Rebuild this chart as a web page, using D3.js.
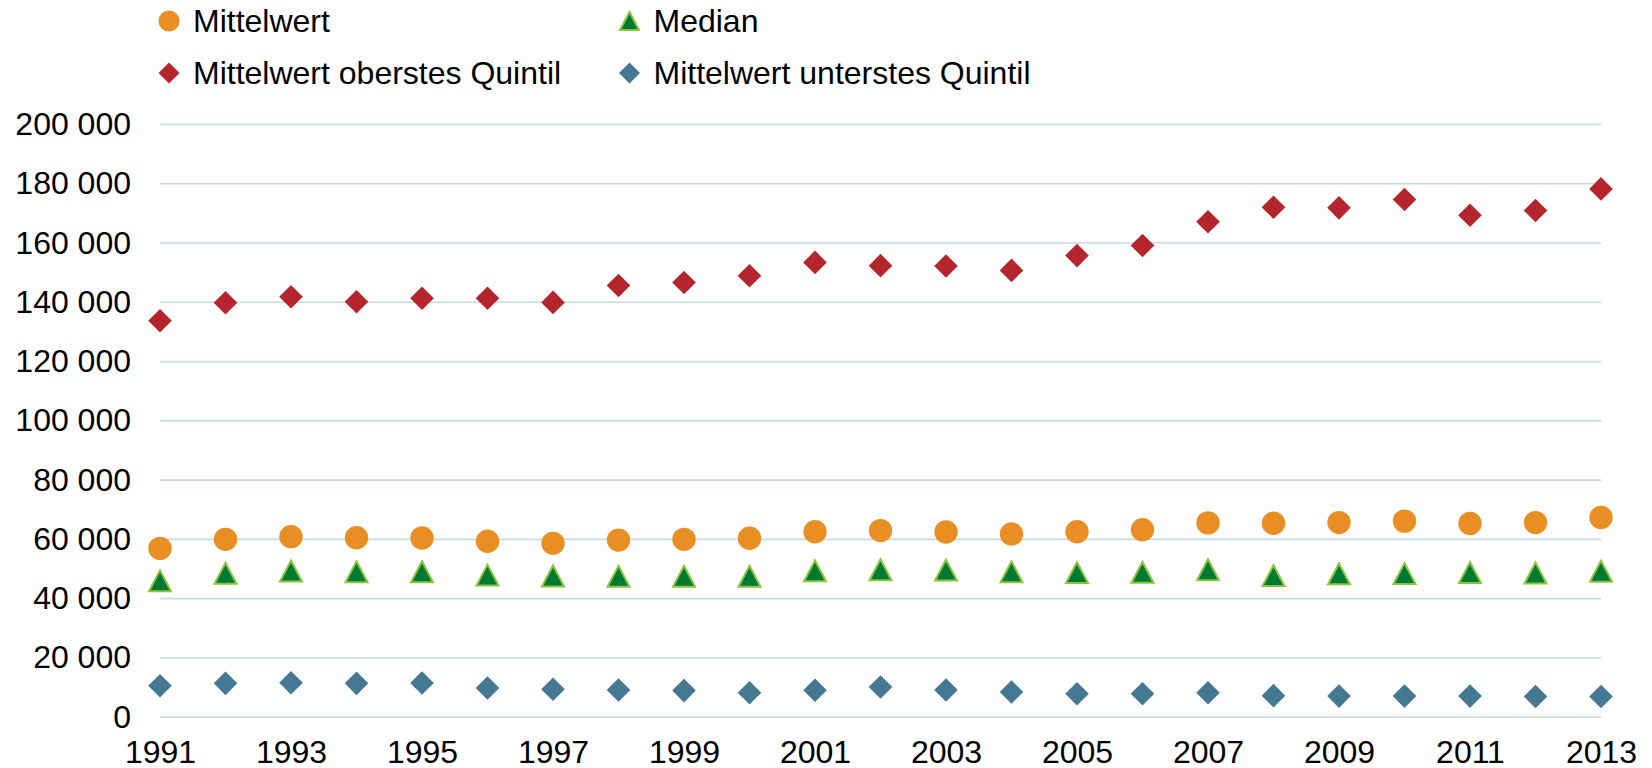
<!DOCTYPE html>
<head>
    <meta charset='utf-8'>
    <style>
        body {
            margin: 0;
            background: #fff;
            font-family: 'Liberation Sans', Arial, sans-serif;
        }
        #vis {
            width: 1652px;
            height: 768px;
        }
        .axis text {
            font-size: 32px;
            fill: #000;
        }
        .grid line {
            stroke: #c9d9e2;
            stroke-width: 1.6px;
        }
        .legend text {
            font-size: 32px;
            fill: #000;
        }
    </style>
</head>

<body>
<div id='vis'></div>
<script src='https://cdn.jsdelivr.net/npm/d3@7/dist/d3.min.js'></script>
<script>
  const years = d3.range(1991, 2014)
  const yearTicks = [1991, 1993, 1995, 1997, 1999, 2001, 2003, 2005, 2007, 2009, 2011, 2013]
  const valueTicks = [0, 20000, 40000, 60000, 80000, 100000, 120000, 140000, 160000, 180000, 200000]

  const mittelwert = [56800, 59850, 60750, 60400, 60300, 59200, 58500, 59600, 59850, 60200, 62400, 62800,
    62300, 61650, 62400, 63100, 65400, 65300, 65500, 66000, 65200, 65500, 67200]
  const median = [45850, 48400, 49150, 48900, 48900, 47800, 47500, 47400, 47400, 47400, 49200, 49600,
    49450, 48900, 48600, 48700, 49600, 47600, 48200, 48300, 48600, 48500, 49100]
  const oberstesQuintil = [133600, 139700, 141700, 140000, 141200, 141200, 139800, 145500, 146500, 148800, 153300, 152200,
    152100, 150600, 155600, 159000, 167000, 171900, 171700, 174500, 169200, 170800, 178100]
  const unterstesQuintil = [10450, 11250, 11450, 11250, 11350, 9700, 9250, 9000, 8800, 8100, 8900, 10000,
    9000, 8350, 7750, 7750, 8100, 7100, 6950, 6950, 6950, 6800, 6800]

  const seriesNames = ['Mittelwert', 'Median', 'Mittelwert oberstes Quintil', 'Mittelwert unterstes Quintil']

  // marker shapes, size = half of the marker width
  const circle = { draw(ctx, r) { ctx.moveTo(r, 0); ctx.arc(0, 0, r, 0, 2 * Math.PI) } }
  const diamond = { draw(ctx, r) { ctx.moveTo(0, -r); ctx.lineTo(r, 0); ctx.lineTo(0, r); ctx.lineTo(-r, 0); ctx.closePath() } }
  const triangle = { draw(ctx, r) { ctx.moveTo(0, -r * 0.95); ctx.lineTo(r, r * 0.95); ctx.lineTo(-r, r * 0.95); ctx.closePath() } }

  const series = [
    {name: seriesNames[2], values: oberstesQuintil, type: diamond, fill: '#b5252d', stroke: 'none', r: 11.8, lr: 10.5},
    {name: seriesNames[3], values: unterstesQuintil, type: diamond, fill: '#457892', stroke: 'none', r: 11.8, lr: 10.5},
    {name: seriesNames[1], values: median, type: triangle, fill: '#007a33', stroke: '#8cc43f', r: 11, lr: 9.5},
    {name: seriesNames[0], values: mittelwert, type: circle, fill: '#e88e23', stroke: 'none', r: 11.7, lr: 10.5},
  ]

  const svg = d3.select('#vis')
    .append('svg')
    .attr('width', 1652)
    .attr('height', 768)

  const x = d3.scaleLinear()
    .domain([1991, 2013])
    .range([160, 1601])

  const y = d3.scaleLinear()
    .domain([0, 200000])
    .range([716.7, 124])

  const fmt = d3.formatLocale({decimal: ',', thousands: '\u00a0', grouping: [3], currency: ['', '']}).format(',')

  // gridlines + y labels
  svg.append('g')
    .attr('class', 'axis grid')
    .attr('transform', 'translate(160,0)')
    .call(d3.axisLeft(y).tickValues(valueTicks).tickSize(-(1601 - 160)).tickPadding(29).tickFormat(fmt))
    .call(g => g.select('.domain').remove())
    .call(g => g.selectAll('text').attr('dy', '0.33em'))

  // x labels
  svg.append('g')
    .attr('class', 'axis')
    .attr('transform', `translate(0,${y(0)})`)
    .call(d3.axisBottom(x).tickValues(yearTicks).tickSize(0).tickPadding(24).tickFormat(d3.format('d')))
    .call(g => g.select('.domain').remove())

  // markers
  series.forEach(s => {
    svg.append('g')
      .selectAll('path')
      .data(s.values.map((v, i) => ({year: years[i], value: v})))
      .join('path')
      .attr('transform', d => `translate(${x(d.year)},${y(d.value)})`)
      .attr('d', d3.symbol().type(s.type).size(s.r))
      .attr('fill', s.fill)
      .attr('stroke', s.stroke)
      .attr('stroke-width', 2)
      .attr('stroke-linejoin', 'miter')
  })

  // legend
  const legendItems = [
    {name: seriesNames[0], col: 0, row: 0},
    {name: seriesNames[1], col: 1, row: 0},
    {name: seriesNames[2], col: 0, row: 1},
    {name: seriesNames[3], col: 1, row: 1},
  ]
  const legendX = [169, 629.5]
  const legendY = [21, 73]

  const legend = svg.append('g').attr('class', 'legend')
    .selectAll('g')
    .data(legendItems)
    .join('g')
    .attr('transform', d => `translate(${legendX[d.col]},${legendY[d.row]})`)

  legend.append('path')
    .each(function (d) {
      const s = series.find(e => e.name === d.name)
      d3.select(this)
        .attr('d', d3.symbol().type(s.type).size(s.lr))
        .attr('fill', s.fill)
        .attr('stroke', s.stroke)
        .attr('stroke-width', 2)
    })

  legend.append('text')
    .attr('x', 24)
    .attr('dy', '0.355em')
    .text(d => d.name)
</script>
</body>
